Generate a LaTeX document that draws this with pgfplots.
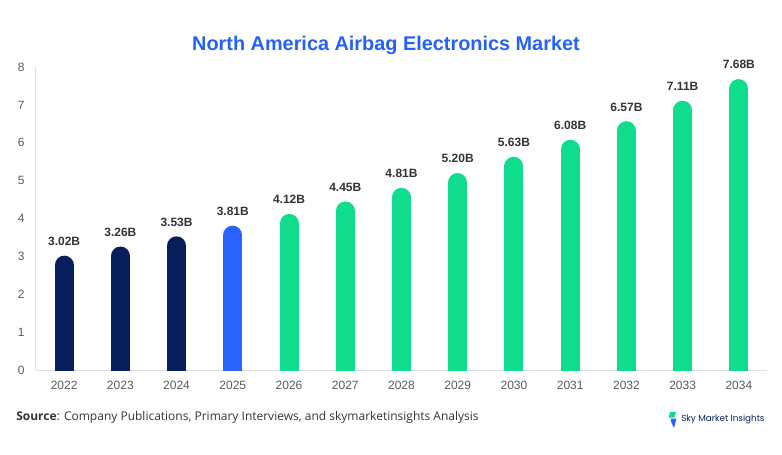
\documentclass[border=0pt]{standalone}
\usepackage{pgfplots}
\pgfplotsset{compat=1.18}
\usepackage{fontspec}
\setmainfont{Liberation Sans}
\newfontfamily\srcfont{Open Sans}
\newfontfamily\logofont{Poppins}
\definecolor{navy}{HTML}{061E5A}
\definecolor{midblue}{HTML}{2962FF}
\definecolor{green}{HTML}{10DC8D}
\definecolor{titleblue}{HTML}{2461F5}
\definecolor{lblgray}{HTML}{333333}
\definecolor{tickgray}{HTML}{595959}
\pgfplotsset{
  baseaxis/.style={
    at={(27pt,63pt)}, anchor=south west,
    scale only axis, width=548.25pt, height=227.25pt,
    xmin=-0.5, xmax=12.5, ymin=0, ymax=8,
  }
}
\begin{document}
\begin{tikzpicture}[x=0.75pt,y=0.75pt]
\path (0,0) rectangle (782,454);
\node[font=\bfseries\fontsize{14.9}{17}\selectfont, text=titleblue] at (386,409) {North America Airbag Electronics Market};
\begin{axis}[
  baseaxis,
  axis x line*=bottom, axis y line*=left,
  axis line style={draw=black!13, line width=0.75pt},
  xtick={0,...,12},
  xticklabels={2022,2023,2024,2025,2026,2027,2028,2029,2030,2031,2032,2033,2034},
  ytick={0,...,8},
  major tick length=0pt,
  tick label style={font=\fontsize{9}{10}\selectfont, text=tickgray},
  xticklabel style={yshift=-5pt},
  yticklabel style={xshift=-5pt},
  /pgf/number format/assume math mode=true,
  clip=true,
]
\addplot[ycomb, no marks, draw=navy, line width=14.25pt, line cap=round, yshift=-7.125pt]
  coordinates {(0,3.02) (1,3.26) (2,3.53)};
\addplot[ycomb, no marks, draw=midblue, line width=14.25pt, line cap=round, yshift=-7.125pt]
  coordinates {(3,3.81)};
\addplot[ycomb, no marks, draw=green, line width=14.25pt, line cap=round, yshift=-7.125pt]
  coordinates {(4,4.12) (5,4.45) (6,4.81) (7,5.20) (8,5.63) (9,6.08) (10,6.57) (11,7.11) (12,7.68)};
\end{axis}
\begin{axis}[
  baseaxis, hide axis, clip=false,
  /pgf/number format/assume math mode=true,
  every node near coord/.style={font=\bfseries\fontsize{9}{10}\selectfont, text=lblgray, yshift=4pt},
]
\addplot[draw=none, no marks,
  nodes near coords={\pgfmathprintnumber[fixed,fixed zerofill,precision=2]{\pgfplotspointmeta}B}]
  coordinates {(0,3.02) (1,3.26) (2,3.53) (3,3.81) (4,4.12) (5,4.45) (6,4.81) (7,5.20) (8,5.63) (9,6.08) (10,6.57) (11,7.11) (12,7.68)};
\end{axis}
\node[anchor=west, inner sep=0pt, font=\srcfont\fontsize{9}{10}\selectfont, text=black!80] at (16,37) {\textbf{Source}: Company Publications, Primary Interviews, and skymarketinsights Analysis};
% logo
\fill[green] (670,42) -- (676,42) -- (674.5,36.5) -- (668.5,36.5) -- cycle;
\fill[midblue] (670.5,35.5) -- (676.5,35.5) -- (674,26) -- (671.5,31) -- cycle;
\node[anchor=west, inner sep=0pt, font=\logofont\fontsize{6.6}{7}\selectfont, text=navy] at (681,35) {Sky Market Insights};
\end{tikzpicture}
\end{document}
